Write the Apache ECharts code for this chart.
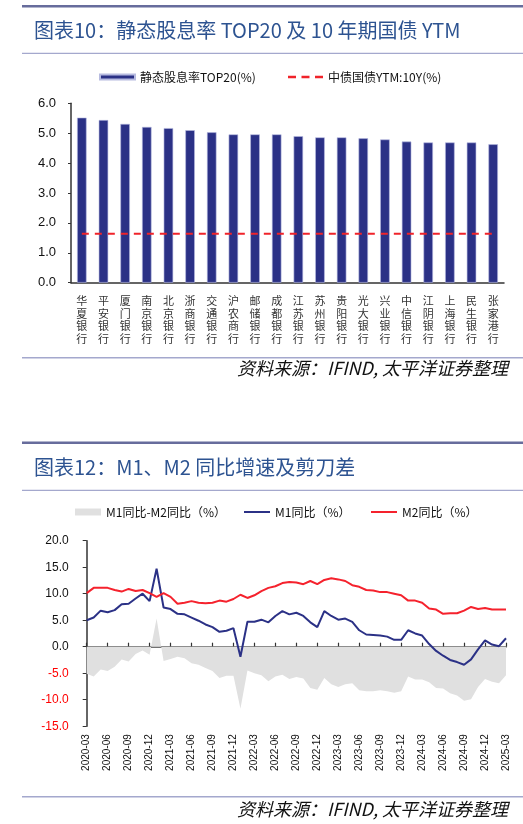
<!DOCTYPE html>
<html><head><meta charset="utf-8">
<script src="https://cdn.jsdelivr.net/npm/echarts@6/dist/echarts.min.js"></script>
<style>html,body{margin:0;padding:0;background:#fff}#c{width:523px;height:824px}</style>
</head><body><div id="c"></div>
<script>
// ---- Chart 1 data ----
const banks = ['华夏银行','平安银行','厦门银行','南京银行','北京银行','浙商银行','交通银行','沪农商行','邮储银行','成都银行','江苏银行','苏州银行','贵阳银行','光大银行','兴业银行','中信银行','江阴银行','上海银行','民生银行','张家港行'];
const dividendYield = [5.52,5.44,5.31,5.21,5.17,5.10,5.03,4.96,4.96,4.96,4.90,4.86,4.86,4.83,4.79,4.72,4.69,4.69,4.69,4.63];
const ytm10y = [1.64,1.64,1.64,1.64,1.64,1.64,1.64,1.64,1.64,1.64,1.64,1.64,1.64,1.64,1.64,1.64,1.64,1.64,1.64,1.64];

// ---- Chart 2 data ----
const months = ['2020-03','2020-04','2020-05','2020-06','2020-07','2020-08','2020-09','2020-10','2020-11','2020-12',
'2021-01','2021-02','2021-03','2021-04','2021-05','2021-06','2021-07','2021-08','2021-09','2021-10','2021-11','2021-12',
'2022-01','2022-02','2022-03','2022-04','2022-05','2022-06','2022-07','2022-08','2022-09','2022-10','2022-11','2022-12',
'2023-01','2023-02','2023-03','2023-04','2023-05','2023-06','2023-07','2023-08','2023-09','2023-10','2023-11','2023-12',
'2024-01','2024-02','2024-03','2024-04','2024-05','2024-06','2024-07','2024-08','2024-09','2024-10','2024-11','2024-12',
'2025-01','2025-02','2025-03'];
const m1 = [5.0,5.5,6.8,6.5,6.9,8.0,8.1,9.1,10.0,8.6,
14.7,7.4,7.1,6.2,6.1,5.5,4.9,4.2,3.7,2.8,3.0,3.5,
-1.9,4.7,4.7,5.1,4.6,5.8,6.7,6.1,6.4,5.8,4.6,3.7,
6.7,5.8,5.1,5.3,4.7,3.1,2.3,2.2,2.1,1.9,1.3,1.3,
3.1,2.5,2.1,0.5,-0.8,-1.7,-2.5,-2.9,-3.4,-2.4,-0.5,1.2,
0.4,0.1,1.6];
const m2 = [10.1,11.1,11.1,11.1,10.7,10.4,10.9,10.5,10.7,10.1,
9.4,10.1,9.4,8.1,8.3,8.6,8.3,8.2,8.3,8.7,8.5,9.0,
9.8,9.2,9.7,10.5,11.1,11.4,12.0,12.2,12.1,11.8,12.4,11.8,
12.6,12.9,12.7,12.4,11.6,11.3,10.7,10.6,10.3,10.3,10.0,9.7,
8.7,8.7,8.3,7.2,7.0,6.2,6.3,6.3,6.8,7.5,7.1,7.3,
7.0,7.0,7.0];
const gap = [-5.1,-5.6,-4.3,-4.6,-3.8,-2.4,-2.8,-1.4,-0.7,-1.5,
5.3,-2.7,-2.3,-1.9,-2.2,-3.1,-3.4,-4.0,-4.6,-5.9,-5.5,-5.5,
-11.7,-4.5,-5.0,-5.4,-6.5,-5.6,-5.3,-6.1,-5.7,-6.0,-7.8,-8.1,
-5.9,-7.1,-7.6,-7.1,-6.9,-8.2,-8.4,-8.4,-8.2,-8.4,-8.7,-8.4,
-5.6,-6.2,-6.2,-6.7,-7.8,-7.9,-8.8,-9.2,-10.2,-9.9,-7.6,-6.1,
-6.6,-6.9,-5.4];

const CJK = '"Noto Sans CJK SC", sans-serif';
const LAT = '"Liberation Sans", Arial, sans-serif';
const titleColor = '#2d5391';
const ruleDark = '#676c9c';
const ruleLight = '#a4a8cd';
const dashIcon = 'path://M0,0L8,0L8,2.5L0,2.5Z M13.5,0L21.5,0L21.5,2.5L13.5,2.5Z M27,0L35,0L35,2.5L27,2.5Z';

function rule(y, h, color) {
  return { type: 'rect', left: 22, top: y, shape: { width: 501, height: h }, style: { fill: color }, silent: true };
}
function legendBox(left, top, w, h, item) {
  return { left: left, top: top, padding: 0, itemWidth: w, itemHeight: h, itemGap: 10,
    textStyle: { fontSize: 12, color: '#111', fontFamily: CJK }, data: [item] };
}

const chart = echarts.init(document.getElementById('c'), null, { renderer: 'canvas' });
chart.setOption({
  animation: false,
  backgroundColor: '#fff',
  graphic: [
    rule(5, 2.5, ruleDark),
    rule(52.8, 1.2, ruleLight),
    rule(357, 1.6, ruleLight),
    rule(441.5, 2.5, ruleDark),
    rule(489.8, 1.2, ruleLight),
    rule(796, 1.6, ruleLight)
  ],
  title: [
    { text: '图表10：静态股息率 TOP20 及 10 年期国债 YTM', left: 34, top: 20, padding: 0,
      textStyle: { color: titleColor, fontSize: 20, fontWeight: 'normal', fontFamily: CJK } },
    { text: '资料来源：IFIND, 太平洋证券整理', right: 15, top: 359, padding: 0,
      textStyle: { color: '#111', fontSize: 18, fontWeight: 'normal', fontStyle: 'italic', fontFamily: CJK } },
    { text: '图表12：M1、M2 同比增速及剪刀差', left: 34, top: 457, padding: 0,
      textStyle: { color: titleColor, fontSize: 20, fontWeight: 'normal', fontFamily: CJK } },
    { text: '资料来源：IFIND, 太平洋证券整理', right: 15, top: 800, padding: 0,
      textStyle: { color: '#111', fontSize: 18, fontWeight: 'normal', fontStyle: 'italic', fontFamily: CJK } }
  ],
  legend: [
    legendBox(99, 71, 35, 5, { name: '静态股息率TOP20(%)', icon: 'rect' }),
    legendBox(288, 71, 35, 2.5, { name: '中债国债YTM:10Y(%)', icon: dashIcon, itemStyle: { color: '#f0232a' } }),
    legendBox(75, 506, 26, 7, { name: 'M1同比-M2同比（%）', icon: 'rect', itemStyle: { color: '#e0e0e0' } }),
    legendBox(244, 506, 26, 2, { name: 'M1同比（%）', icon: 'rect', itemStyle: { color: '#2b3186' } }),
    legendBox(371, 506, 26, 2, { name: 'M2同比（%）', icon: 'rect', itemStyle: { color: '#f5222d' } })
  ],
  grid: [
    { left: 71, top: 103.3, width: 433, height: 179.4 },
    { left: 86.7, top: 540.7, width: 419.3, height: 185.5 }
  ],
  xAxis: [
    { gridIndex: 0, type: 'category', data: banks,
      axisLine: { lineStyle: { color: '#333', width: 1.5 } },
      axisTick: { show: false },
      axisLabel: { interval: 0, margin: 12, fontSize: 11, lineHeight: 12.5, color: '#333', fontFamily: CJK,
        formatter: function (v) { return v.split('').join('\n'); } } },
    { gridIndex: 1, type: 'category', data: months, boundaryGap: false, position: 'bottom',
      axisLine: { show: false, onZero: false }, axisTick: { show: false },
      axisLabel: { interval: 2, rotate: 90, margin: 8, fontSize: 10, color: '#111',
        fontFamily: '"Liberation Sans Narrow", "Liberation Sans", Arial, sans-serif' } },
    { gridIndex: 1, type: 'category', data: months, boundaryGap: false, position: 'bottom',
      axisLine: { onZero: true, lineStyle: { color: '#444', width: 1.5 } },
      axisTick: { show: true, inside: true, interval: 2, length: 4, lineStyle: { color: '#333', width: 1.2 } },
      axisLabel: { show: false } }
  ],
  yAxis: [
    { gridIndex: 0, type: 'value', min: 0, max: 6, interval: 1,
      axisLine: { show: true, lineStyle: { color: '#333', width: 1.5 } },
      axisTick: { show: true, length: 3, lineStyle: { color: '#333' } },
      splitLine: { show: false },
      axisLabel: { margin: 15, fontSize: 13, color: '#111', fontFamily: LAT,
        formatter: function (v) { return v.toFixed(1); } } },
    { gridIndex: 1, type: 'value', min: -15, max: 20, interval: 5,
      axisLine: { show: true, onZero: false, lineStyle: { color: '#333', width: 1.5 } },
      axisTick: { show: true, length: 4, lineStyle: { color: '#333' } },
      splitLine: { show: false },
      axisLabel: { margin: 18, fontSize: 12, fontFamily: LAT,
        color: function (v) { return Number(v) < 0 ? '#ff0000' : '#111'; },
        formatter: function (v) { return v.toFixed(1); } } }
  ],
  series: [
    { name: '静态股息率TOP20(%)', type: 'bar', xAxisIndex: 0, yAxisIndex: 0, data: dividendYield,
      barWidth: 9.5, itemStyle: { color: '#2b3186', borderColor: '#b7bbe0', borderWidth: 0.6 } },
    { name: '中债国债YTM:10Y(%)', type: 'line', xAxisIndex: 0, yAxisIndex: 0, data: ytm10y,
      symbol: 'none', lineStyle: { color: '#f0232a', width: 2, type: [7, 6] }, itemStyle: { color: '#f0232a' } },
    { name: 'M1同比-M2同比（%）', type: 'line', xAxisIndex: 2, yAxisIndex: 1, data: gap,
      symbol: 'none', lineStyle: { width: 0, color: '#e0e0e0' }, itemStyle: { color: '#e0e0e0' },
      areaStyle: { color: '#e0e0e0', opacity: 1 }, z: 1 },
    { name: 'M1同比（%）', type: 'line', xAxisIndex: 2, yAxisIndex: 1, data: m1,
      symbol: 'none', lineStyle: { color: '#2b3186', width: 2 }, itemStyle: { color: '#2b3186' }, z: 3 },
    { name: 'M2同比（%）', type: 'line', xAxisIndex: 2, yAxisIndex: 1, data: m2,
      symbol: 'none', lineStyle: { color: '#f5222d', width: 2 }, itemStyle: { color: '#f5222d' }, z: 3 }
  ]
});
</script>
</body></html>
